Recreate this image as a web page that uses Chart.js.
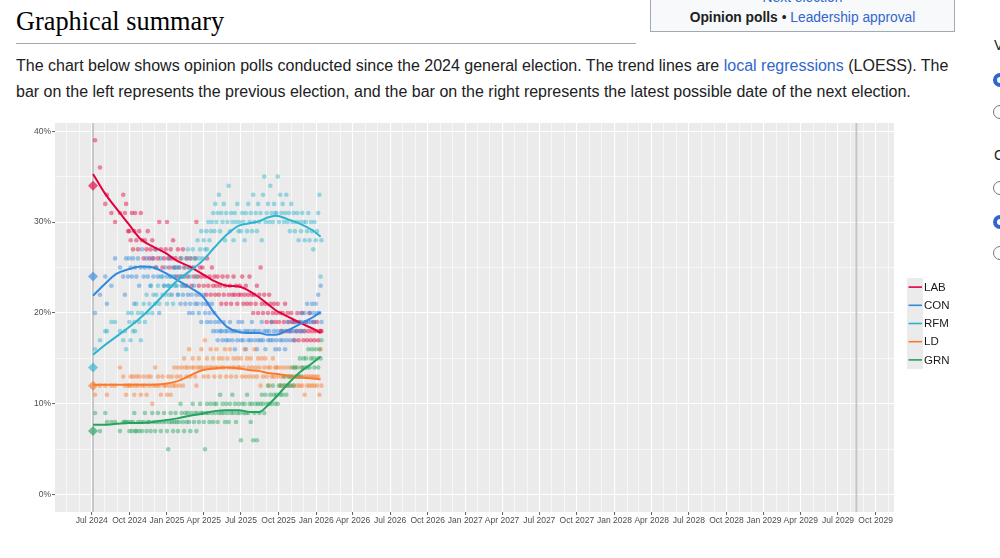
<!DOCTYPE html>
<html>
<head>
<meta charset="utf-8">
<script src="https://cdn.jsdelivr.net/npm/chart.js@4.4.1/dist/chart.umd.min.js"></script>
<style>
  body { margin: 0; width: 1000px; height: 558px; overflow: hidden; position: relative; background: #fff;
         font-family: "Liberation Sans", Arial, sans-serif; color: #202122; }
  a { color: #3366cc; text-decoration: none; }
  .title { position: absolute; left: 16px; top: 9px; margin: 0; font: normal 26.3px/26px "Liberation Serif", "DejaVu Serif", serif; color: #000; }
  .rule { position: absolute; left: 16px; top: 43px; width: 620px; height: 1px; background: #a2a9b1; }
  .intro { position: absolute; left: 16px; top: 53px; margin: 0; font-size: 16px; line-height: 25.6px; white-space: nowrap; }
  .navbox { position: absolute; left: 650px; top: -12px; width: 303px; height: 42px; border: 1px solid #a2a9b1; background: #f8f9fa;
            font-size: 13.8px; text-align: center; }
  .navbox .cut { position: absolute; left: 0; right: 0; top: 1px; }
  .navbox .row { position: absolute; left: 0; right: 0; top: 21px; }
  .side { position: absolute; left: 993px; width: 14px; height: 14px; border-radius: 50%; border: 1px solid #72777d; box-sizing: border-box; }
  .side.on { border: 4px solid #3366cc; }
  .sidetxt { position: absolute; left: 994px; font-size: 14px; color: #202122; }
  #wrap { position: absolute; left: 0; top: 110px; width: 1000px; height: 430px; }
</style>
</head>
<body>
<div class="navbox">
  <div class="cut"><a href="#">Next election</a></div>
  <div class="row"><b>Opinion polls</b> &bull; <a href="#">Leadership approval</a></div>
</div>
<h2 class="title">Graphical summary</h2>
<div class="rule"></div>
<p class="intro">The chart below shows opinion polls conducted since the 2024 general election. The trend lines are <a href="#">local regressions</a> (LOESS). The<br>bar on the left represents the previous election, and the bar on the right represents the latest possible date of the next election.</p>
<div class="sidetxt" style="top:37px">V</div>
<div class="side on" style="top:73px"></div>
<div class="side" style="top:105px"></div>
<div class="sidetxt" style="top:147px">C</div>
<div class="side" style="top:181px"></div>
<div class="side on" style="top:215px"></div>
<div class="side" style="top:246px"></div>
<div id="wrap"><canvas id="Chart"></canvas></div>

<script>
// * Parties and colours
const parties = ['LAB', 'CON', 'RFM', 'LD', 'GRN'];
const colours = ['#E4003B', '#3388DD', '#2AB4CF', '#FA7A2C', '#24A35E'];

// * Election days (days after 1 Jul 2024): 2024 election, latest possible next election
const electionDays = [3, 1871];
// * 2024 result shown on the left bar
const electionResult = [34, 24, 14, 12, 7];

// * Poll dates (days after 1 Jul 2024)
const pollDay = [
  8, 20, 33, 37, 48, 57, 69, 77, 81, 84, 89,
  92, 95, 98, 101, 104, 106, 109, 113, 116, 120, 123, 127, 130, 134, 137, 141, 144, 148, 151, 155, 158, 162, 165, 169, 173, 177,
  181, 184, 187, 190, 193, 196, 199, 202, 205, 208, 211, 214, 217, 220, 223, 226, 229, 232, 235, 238, 241, 244, 247, 250, 253, 256, 259, 262, 265, 268,
  271, 274, 277, 280, 282, 285, 288, 291, 294, 297, 300, 302, 305, 308, 311, 314, 317, 320, 323, 326, 329, 332, 335, 338, 341, 344, 347, 350, 353, 356, 359,
  362, 365, 368, 371, 374, 377, 380, 383, 386, 389, 392, 395, 398, 401, 404, 407, 410, 413, 416, 419, 422, 425, 428, 431, 434, 437, 440, 443, 446, 449,
  452, 455, 458, 461, 464, 467, 470, 473, 476, 479, 482, 485, 488, 491, 494, 497, 500, 503, 506, 509, 512, 515, 518, 521, 524, 527, 530, 533, 536, 539, 542, 545, 548, 551, 554, 557, 560, 562
];

// * Poll values (%)
const labPolls = [
  39, 36, 32, 33, 31, 30, 31, 33, 31, 32, 29,
  29, 28, 31, 27, 29, 31, 28, 27, 29, 31, 28, 26, 28, 27, 29, 26, 27, 28, 26, 27, 25, 26, 30, 27, 25, 26,
  27, 30, 26, 25, 27, 26, 28, 25, 26, 24, 27, 25, 26, 24, 27, 25, 23, 26, 24, 25, 26, 23, 25, 24, 26, 30, 24, 23, 25, 24,
  25, 23, 24, 22, 26, 23, 24, 22, 25, 23, 24, 22, 23, 24, 22, 23, 21, 24, 22, 23, 21, 24, 22, 23, 21, 22, 24, 22, 23, 21, 22,
  23, 22, 24, 21, 22, 23, 21, 22, 24, 21, 22, 20, 22, 21, 23, 20, 22, 25, 21, 20, 22, 21, 19, 20, 22, 21, 19, 20, 21, 19,
  20, 21, 19, 20, 18, 20, 19, 21, 18, 20, 19, 18, 20, 19, 17, 19, 18, 20, 17, 19, 18, 20, 17, 18, 19, 17, 18, 20, 17, 18, 19, 17, 18, 19, 17, 18, 18, 18
];
const conPolls = [
  20, 22, 24, 21, 23, 26, 25, 24, 22, 26, 24,
  26, 25, 24, 26, 21, 25, 24, 26, 23, 25, 27, 24, 25, 26, 24, 25, 23, 26, 24, 25, 27, 24, 20, 26, 24, 23,
  25, 24, 23, 26, 24, 22, 25, 24, 23, 25, 22, 24, 21, 23, 22, 24, 21, 23, 22, 20, 21, 22, 20, 23, 21, 22, 21, 20, 22, 19,
  21, 22, 20, 21, 19, 21, 20, 19, 21, 18, 20, 19, 18, 17, 19, 18, 18, 17, 19, 18, 17, 18, 17, 19, 18, 17, 18, 16, 18, 17, 19,
  18, 17, 19, 17, 18, 16, 18, 17, 18, 17, 19, 18, 17, 18, 16, 17, 18, 17, 19, 17, 18, 16, 18, 17, 18, 17, 19, 17, 18, 16,
  17, 18, 16, 17, 18, 17, 18, 16, 17, 19, 18, 17, 18, 19, 18, 17, 19, 18, 19, 18, 20, 19, 18, 20, 19, 21, 19, 20, 19, 21, 20, 19, 21, 20, 22, 20, 23, 19
];
const rfmPolls = [
  16, 17, 18, 18, 19, 19, 18, 17, 18, 16, 20,
  19, 17, 20, 18, 19, 18, 21, 20, 19, 17, 20, 21, 19, 22, 20, 21, 23, 20, 22, 21, 22, 23, 21, 24, 22, 23,
  22, 21, 23, 22, 24, 23, 21, 24, 25, 23, 22, 25, 24, 26, 23, 24, 25, 26, 27, 25, 24, 26, 27, 25, 26, 24, 28, 26, 27, 29,
  26, 28, 27, 29, 27, 30, 28, 29, 30, 31, 29, 32, 30, 31, 33, 29, 31, 30, 32, 28, 31, 30, 34, 29, 31, 30, 28, 31, 30, 32, 29,
  30, 29, 31, 30, 28, 31, 29, 32, 30, 31, 29, 33, 30, 31, 29, 32, 30, 31, 28, 33, 35, 30, 31, 32, 30, 34, 31, 30, 32, 31,
  31, 35, 30, 33, 31, 32, 30, 31, 33, 30, 31, 29, 32, 30, 31, 29, 30, 31, 28, 30, 29, 31, 30, 28, 30, 29, 31, 28, 30, 29, 27, 30, 28, 29, 31, 33, 24, 28
];
const ldPolls = [
  11, 12, 12, 11, 12, 12, 14, 13, 12, 11, 12,
  12, 13, 12, 13, 11, 12, 13, 12, 13, 11, 12, 13, 12, 11, 13, 12, 13, 10, 12, 14, 12, 13, 12, 11, 13, 12,
  12, 11, 13, 12, 11, 13, 12, 14, 12, 13, 14, 12, 13, 14, 12, 15, 14, 13, 14, 16, 13, 14, 15, 14, 13, 12, 14, 15, 14, 16,
  14, 13, 17, 14, 15, 13, 14, 16, 14, 15, 13, 14, 16, 14, 15, 13, 14, 15, 14, 16, 13, 15, 14, 16, 13, 14, 15, 14, 13, 15, 14,
  14, 15, 13, 14, 16, 13, 15, 14, 13, 15, 14, 13, 16, 14, 13, 15, 14, 12, 15, 13, 14, 15, 13, 14, 12, 14, 13, 15, 13, 14,
  14, 13, 14, 12, 13, 14, 12, 13, 14, 12, 13, 14, 12, 13, 12, 14, 13, 12, 13, 12, 14, 12, 13, 11, 13, 12, 13, 12, 13, 12, 13, 12, 13, 12, 13, 11, 16, 12
];
const grnPolls = [
  9, 7, 9, 8, 8, 8, 7, 8, 8, 8, 8,
  7, 8, 7, 8, 9, 7, 7, 8, 7, 8, 7, 8, 9, 7, 8, 8, 7, 9, 8, 7, 8, 9, 8, 7, 8, 9,
  8, 7, 5, 8, 9, 8, 7, 8, 9, 8, 7, 8, 10, 9, 8, 7, 9, 8, 9, 8, 7, 9, 10, 8, 9, 7, 9, 8, 10, 9,
  9, 8, 5, 9, 10, 9, 8, 10, 9, 8, 10, 9, 10, 8, 9, 11, 9, 10, 9, 8, 10, 9, 8, 10, 9, 11, 9, 10, 8, 9, 10,
  9, 6, 10, 9, 10, 9, 11, 9, 10, 8, 10, 6, 9, 10, 6, 10, 9, 10, 11, 10, 9, 11, 10, 12, 10, 11, 10, 12, 11, 10,
  11, 10, 12, 11, 12, 11, 13, 12, 11, 12, 13, 12, 13, 14, 12, 14, 13, 14, 13, 15, 13, 14, 15, 14, 15, 14, 16, 14, 15, 16, 15, 14, 16, 15, 14, 16, 15, 17
];

// * Trend lines (LOESS)
const trendDay = [3, 30, 60, 90, 120, 150, 180, 210, 240, 270, 300, 330, 360, 390, 410, 430, 450, 480, 510, 540, 560];
const labTrend = [35.3, 33.3, 31.5, 29.8, 28.1, 27.3, 26.6, 25.7, 25.1, 24.3, 23.5, 23.0, 22.9, 22.3, 21.7, 21.0, 20.3, 19.6, 18.9, 18.3, 17.8];
const conTrend = [21.9, 23.1, 24.3, 24.8, 25.1, 25.0, 24.4, 23.6, 22.8, 21.9, 20.0, 18.5, 17.9, 17.8, 17.8, 17.6, 17.6, 18.1, 18.8, 19.5, 20.1];
const rfmTrend = [15.4, 16.4, 17.4, 18.4, 19.5, 20.8, 22.2, 23.6, 24.6, 25.7, 27.2, 28.6, 29.6, 29.9, 30.1, 30.5, 30.7, 30.3, 29.8, 29.1, 28.4];
const ldTrend  = [12.1, 12.1, 12.1, 12.1, 12.1, 12.1, 12.2, 12.5, 13.1, 13.7, 13.9, 14.0, 13.9, 13.7, 13.6, 13.4, 13.3, 13.1, 12.9, 12.8, 12.7];
const grnTrend = [7.7, 7.7, 7.8, 7.9, 7.9, 8.0, 8.2, 8.4, 8.7, 8.9, 9.2, 9.3, 9.3, 9.1, 9.1, 9.8, 10.7, 12.2, 13.5, 14.5, 15.2];

// * Axis ticks
const monthNames = ['Jan', 'Feb', 'Mar', 'Apr', 'May', 'Jun', 'Jul', 'Aug', 'Sep', 'Oct', 'Nov', 'Dec'];
const yTicks = [0, 5, 10, 15, 20, 25, 30, 35, 40];

const polls = [labPolls, conPolls, rfmPolls, ldPolls, grnPolls];
const trends = [labTrend, conTrend, rfmTrend, ldTrend, grnTrend];

// * Helpers
const dayMs = 86400000;
const origin = Date.UTC(2024, 6, 1);
const xMin = -90, xMax = 1963;
const dateOf = d => new Date(origin + Math.round(d) * dayMs);
const isQuarter = d => dateOf(d).getUTCMonth() % 3 === 0;

const monthTicks = [];
for (let y = 2024; y <= 2029; y++) {
  for (let m = 0; m < 12; m++) {
    const d = (Date.UTC(y, m, 1) - origin) / dayMs;
    if (d >= xMin && d <= xMax) monthTicks.push(d);
  }
}

function alpha(hex, a) {
  const n = parseInt(hex.slice(1), 16);
  return `rgba(${n >> 16},${(n >> 8) & 255},${n & 255},${a})`;
}

// * Datasets
const datasets = [];
parties.forEach((p, i) => {
  datasets.push({
    label: p + ' polls',
    type: 'scatter',
    data: pollDay.map((d, j) => ({ x: d, y: polls[i][j] })),
    backgroundColor: alpha(colours[i], 0.45),
    borderWidth: 0,
    pointRadius: 2.3,
    order: 40 - i,
  });
});
parties.forEach((p, i) => {
  datasets.push({
    label: p + ' 2024',
    type: 'scatter',
    data: [{ x: electionDays[0], y: electionResult[i] }],
    pointStyle: 'rectRot',
    backgroundColor: alpha(colours[i], 0.65),
    borderWidth: 0,
    pointRadius: 5,
    order: 30 - i,
  });
});
parties.forEach((p, i) => {
  datasets.push({
    label: p,
    type: 'scatter',
    showLine: true,
    data: trendDay.map((d, j) => ({ x: d, y: trends[i][j] })),
    borderColor: colours[i],
    borderWidth: 2,
    pointRadius: 0,
    cubicInterpolationMode: 'monotone',
    order: 20 - i,
  });
});

// * Plugins
const panel = {
  id: 'panel',
  beforeDraw(chart) {
    const { ctx, chartArea: a } = chart;
    ctx.save();
    ctx.fillStyle = '#EBEBEB';
    ctx.fillRect(a.left, a.top, a.width, a.height);
    ctx.restore();
  },
  beforeDatasetsDraw(chart) {
    const { ctx, chartArea: a, scales: { x } } = chart;
    ctx.save();
    ctx.strokeStyle = '#C4C4C4';
    ctx.lineWidth = 1.8;
    electionDays.forEach(d => {
      const px = x.getPixelForValue(d);
      ctx.beginPath();
      ctx.moveTo(px, a.top);
      ctx.lineTo(px, a.bottom);
      ctx.stroke();
    });
    ctx.restore();
  }
};

const keyLegend = {
  id: 'keyLegend',
  afterDraw(chart) {
    const { ctx, chartArea: a } = chart;
    const x0 = a.right + 13, y0 = a.top + 155, row = 18.2;
    ctx.save();
    ctx.fillStyle = '#EBEBEB';
    ctx.fillRect(x0, y0, 16, row * parties.length);
    ctx.font = '11.5px "Liberation Sans", Arial, sans-serif';
    ctx.textBaseline = 'middle';
    parties.forEach((p, i) => {
      const cy = y0 + row * (i + 0.5);
      ctx.strokeStyle = colours[i];
      ctx.lineWidth = 1.6;
      ctx.beginPath();
      ctx.moveTo(x0 + 1.5, cy);
      ctx.lineTo(x0 + 15, cy);
      ctx.stroke();
      ctx.fillStyle = '#1a1a1a';
      ctx.fillText(p, x0 + 17, cy + 0.5);
    });
    ctx.restore();
  }
};

const tickFont = { family: '"Liberation Sans", Arial, sans-serif', size: 8.5 };

// * Config Block
const config = {
  type: 'scatter',
  data: { datasets },
  options: {
    responsive: true,
    maintainAspectRatio: false,
    animation: false,
    devicePixelRatio: 1,
    layout: { padding: { left: 0, right: 106, top: 13, bottom: 0 } },
    plugins: { legend: { display: false }, tooltip: { enabled: false } },
    scales: {
      x: {
        type: 'linear',
        min: xMin,
        max: xMax,
        afterBuildTicks: s => { s.ticks = monthTicks.map(v => ({ value: v })); },
        afterFit: s => { s.height = 28; },
        border: { display: false },
        grid: {
          color: '#FFFFFF',
          lineWidth: c => (c.tick && isQuarter(c.tick.value) ? 1.1 : 0.6),
          tickLength: 3,
          tickWidth: 0.8,
          tickColor: c => (c.tick && isQuarter(c.tick.value) ? '#333333' : 'rgba(0,0,0,0)'),
        },
        ticks: {
          autoSkip: false,
          maxRotation: 0,
          padding: 1,
          color: '#4D4D4D',
          font: tickFont,
          callback: v => {
            const d = dateOf(v);
            const m = d.getUTCMonth();
            return m % 3 === 0 ? monthNames[m] + ' ' + d.getUTCFullYear() : '';
          }
        }
      },
      y: {
        type: 'linear',
        min: -1.9,
        max: 40.9,
        afterBuildTicks: s => { s.ticks = yTicks.map(v => ({ value: v })); },
        afterFit: s => { s.width = 55; },
        border: { display: false },
        grid: {
          color: '#FFFFFF',
          lineWidth: c => (c.tick && c.tick.value % 10 === 0 ? 1.1 : 0.6),
          tickLength: 3,
          tickWidth: 0.8,
          tickColor: c => (c.tick && c.tick.value % 10 === 0 ? '#333333' : 'rgba(0,0,0,0)'),
        },
        ticks: {
          padding: 1,
          color: '#4D4D4D',
          font: tickFont,
          callback: v => (v % 10 === 0 ? v + '%' : '')
        }
      }
    }
  },
  plugins: [panel, keyLegend]
};

// * Init / Render Block
const pollChart = new Chart(document.getElementById('Chart'), config);
</script>
</body>
</html>
